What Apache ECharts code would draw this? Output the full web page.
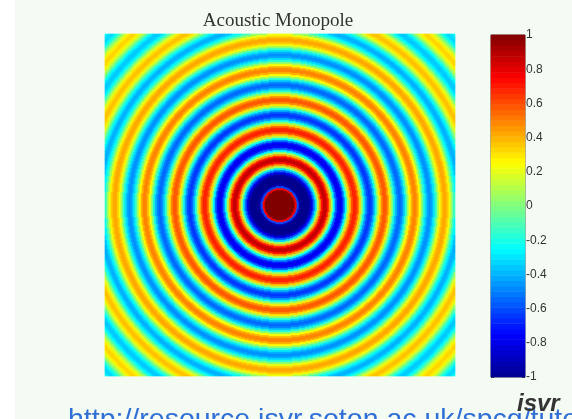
<!DOCTYPE html>
<html>
<head>
<meta charset="utf-8">
<title>Acoustic Monopole</title>
<script src="https://cdn.jsdelivr.net/npm/echarts@6/dist/echarts.min.js"></script>
<style>
  html, body { margin: 0; padding: 0; background: #ffffff; }
  #chart { width: 572px; height: 419px; }
</style>
</head>
<body>
<div id="chart"></div>
<script>
// Pressure of the monopole field against distance from the source,
// one sample every two field cells, starting at the source.
const radialProfile = [
  // saturated source region and first trough
  1, 1, 1, 1, 1, 1, 1, 1, 0.75, -0.6,
  -0.95, -1, -1, -1, -1, -0.95, -0.8, -0.55, -0.3,
  // outgoing rings
  0.09, 0.44, 0.71, 0.86, 0.86, 0.71, 0.44, 0.09,
  -0.25, -0.54, -0.73, -0.8, -0.73, -0.54, -0.25,
  0.07, 0.35, 0.57, 0.68, 0.68, 0.57, 0.35, 0.07,
  -0.2, -0.43, -0.59, -0.65, -0.59, -0.43, -0.2,
  0.06, 0.29, 0.47, 0.57, 0.57, 0.47, 0.29, 0.06,
  -0.17, -0.37, -0.5, -0.55, -0.5, -0.37, -0.17,
  0.05, 0.25, 0.4, 0.49, 0.49, 0.4, 0.25, 0.05,
  -0.15, -0.31, -0.43, -0.47, -0.43, -0.31, -0.15,
  0.05, 0.22, 0.35, 0.42, 0.42, 0.35, 0.22, 0.05,
  -0.13, -0.27, -0.37, -0.41, -0.37, -0.27, -0.13,
  0.04, 0.19, 0.31, 0.37, 0.37, 0.31, 0.19, 0.04,
  -0.11, -0.24, -0.33, -0.36, -0.33, -0.24, -0.11,
  0.04, 0.17, 0.28, 0.33, 0.33, 0.28, 0.17, 0.04,
  -0.1, -0.22, -0.3, -0.33, -0.3, -0.22, -0.1,
  0.03, 0.16, 0.26
];
// Field cells between consecutive profile samples
const cellsPerSample = 2;

// Field grid size (cells) with the source at its centre
const fieldCols = 350;
const fieldRows = 342;

// Colour scale range, number of colour levels and its tick values
const scaleMin = -1;
const scaleMax = 1;
const colorLevels = 64;
const colorbarTicks = [-1, -0.8, -0.6, -0.4, -0.2, 0, 0.2, 0.4, 0.6, 0.8, 1];

// Jet colour map stops
const jetColors = ['#00008f', '#0000ff', '#0080ff', '#00ffff', '#80ff80',
                   '#ffff00', '#ff8000', '#ff0000', '#800000'];

const titleText = 'Acoustic Monopole';
const sourceUrl = 'http://resource.isvr.soton.ac.uk/spcg/tutorial/tutorial/Tutorial_files/Web-basics-sound.htm';
const logoText = 'isvr';

// Build heatmap cells: each cell takes the profile sample nearest to its distance from the source
const colIndex = Array.from({ length: fieldCols }, (_, i) => i);
const rowIndex = Array.from({ length: fieldRows }, (_, j) => j);
const fieldData = [];
for (let i = 0; i < fieldCols; i++) {
  for (let j = 0; j < fieldRows; j++) {
    const dx = i + 0.5 - fieldCols / 2;
    const dy = j + 0.5 - fieldRows / 2;
    const k = Math.min(radialProfile.length - 1,
                       Math.round(Math.hypot(dx, dy) / cellsPerSample));
    fieldData.push([i, j, radialProfile[k]]);
  }
}

// Colour bar: one cell per colour level
const levelIndex = Array.from({ length: colorLevels }, (_, k) => k);
const colorbarData = levelIndex.map(k =>
  [0, k, scaleMin + (k + 0.5) * (scaleMax - scaleMin) / colorLevels]);

const chart = echarts.init(document.getElementById('chart'), null, { renderer: 'canvas' });

const tickAxisBase = {
  type: 'value',
  gridIndex: 1,
  min: scaleMin,
  max: scaleMax,
  interval: 0.2,
  splitLine: { show: false },
  axisLine: { show: false }
};

chart.setOption({
  animation: false,
  backgroundColor: '#f4fbf2',
  title: {
    text: titleText,
    left: 273,
    top: 7,
    textAlign: 'center',
    textStyle: {
      fontFamily: 'Liberation Serif',
      fontSize: 19,
      fontWeight: 'normal',
      color: '#333333'
    }
  },
  grid: [
    { left: 105, top: 34, width: 350, height: 342, show: false },
    { left: 491, top: 35, width: 34, height: 342, show: true,
      borderColor: '#555555', borderWidth: 1, backgroundColor: 'transparent' }
  ],
  xAxis: [
    { type: 'category', gridIndex: 0, data: colIndex, show: false },
    { type: 'category', gridIndex: 1, data: [0], show: false }
  ],
  yAxis: [
    { type: 'category', gridIndex: 0, data: rowIndex, show: false },
    { type: 'category', gridIndex: 1, data: levelIndex, show: false },
    Object.assign({}, tickAxisBase, {
      position: 'right',
      axisTick: { show: true, inside: true, length: 3, lineStyle: { color: '#333333' } },
      axisLabel: {
        show: true,
        margin: 1,
        fontFamily: 'Liberation Sans',
        fontSize: 12,
        color: '#333333',
        padding: [3, 0, 0, 0],
        formatter: v => {
          const t = colorbarTicks.find(c => Math.abs(c - v) < 1e-6);
          return t === undefined ? '' : String(t);
        }
      }
    }),
    Object.assign({}, tickAxisBase, {
      position: 'left',
      axisTick: { show: true, inside: true, length: 3, lineStyle: { color: '#333333' } },
      axisLabel: { show: false }
    })
  ],
  visualMap: {
    type: 'continuous',
    show: false,
    min: scaleMin,
    max: scaleMax,
    seriesIndex: [0, 1],
    inRange: { color: jetColors }
  },
  graphic: [
    { type: 'rect', left: 0, top: 0, shape: { width: 15, height: 419 },
      style: { fill: '#ffffff' }, silent: true, z: -10 },
    { type: 'text', x: 68, y: 420.6, silent: true, z: 10,
      style: { text: sourceUrl, fill: '#2f6fd6', fontFamily: 'Liberation Sans',
               fontSize: 28.5, verticalAlign: 'middle', align: 'left' } },
    { type: 'text', x: 517, y: 404.5, silent: true, z: 11,
      style: { text: logoText, fill: '#333333', fontFamily: 'Liberation Sans',
               fontSize: 24, fontWeight: 'bold', fontStyle: 'italic',
               verticalAlign: 'middle', align: 'left' } }
  ],
  series: [
    {
      type: 'heatmap',
      xAxisIndex: 0,
      yAxisIndex: 0,
      data: fieldData,
      progressive: 0,
      itemStyle: { borderWidth: 0 },
      emphasis: { disabled: true }
    },
    {
      type: 'heatmap',
      xAxisIndex: 1,
      yAxisIndex: 1,
      data: colorbarData,
      progressive: 0,
      itemStyle: { borderWidth: 0 },
      emphasis: { disabled: true }
    }
  ]
});
</script>
</body>
</html>
